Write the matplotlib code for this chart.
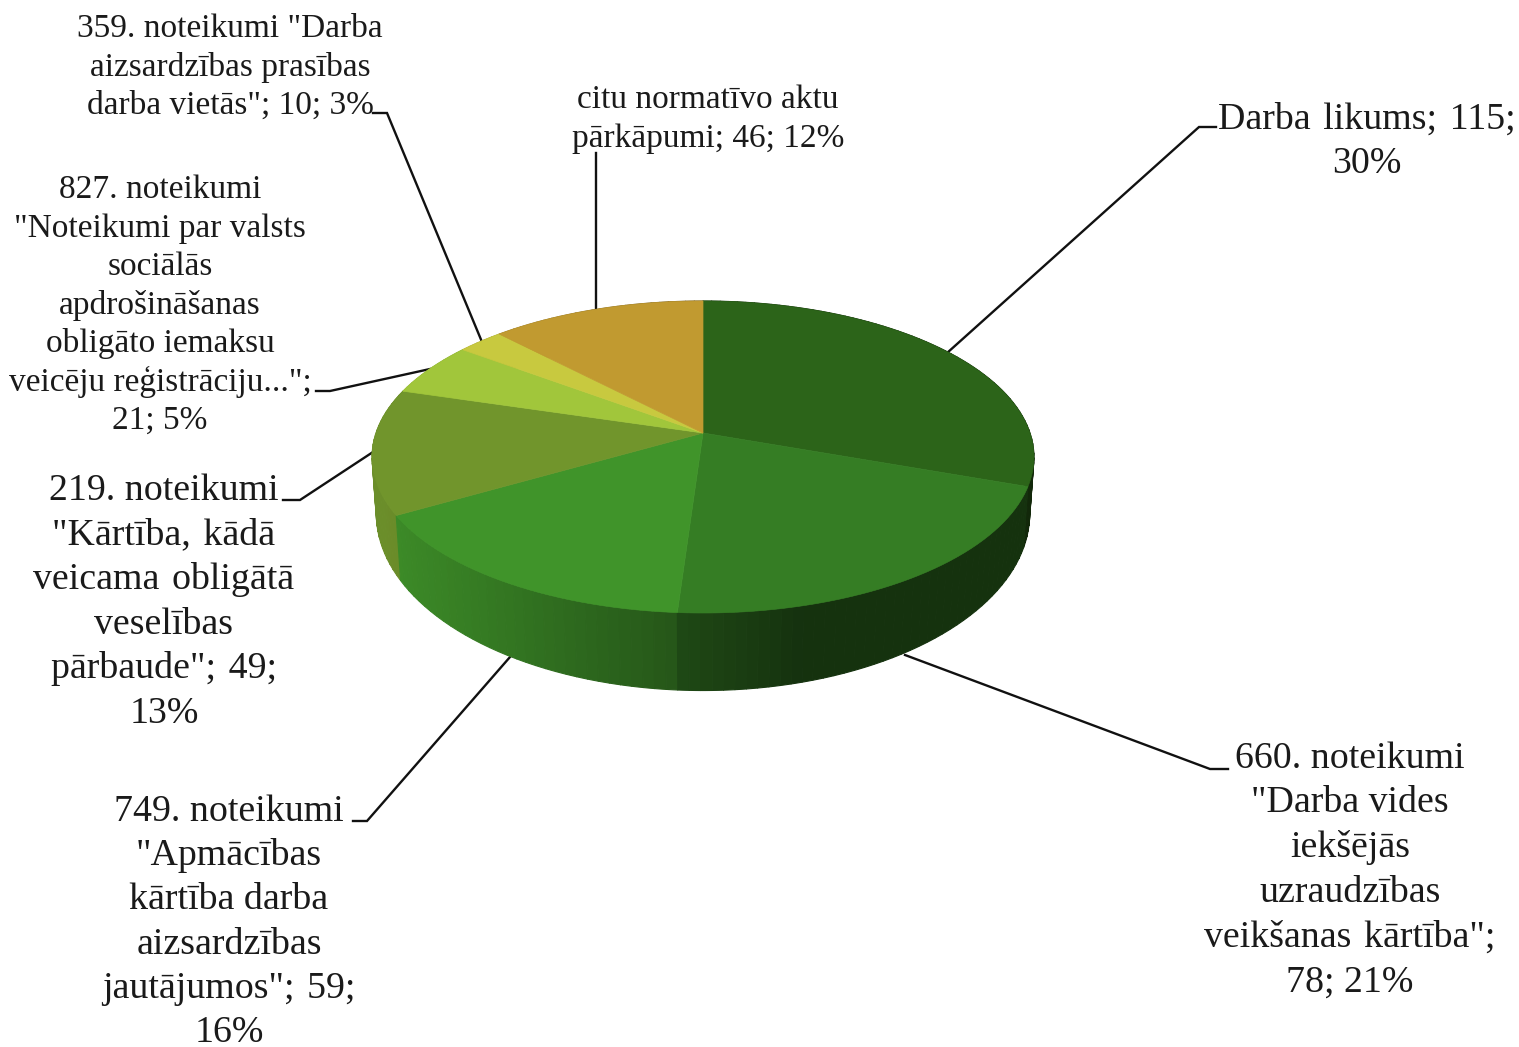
import numpy as np
import matplotlib
matplotlib.use('Agg')
import matplotlib.pyplot as plt
from matplotlib.collections import PolyCollection
from matplotlib.colors import to_rgb

# slices, clockwise from 12 o'clock
values = [115, 78, 59, 49, 21, 10, 46]
colors = ['#2c6419', '#357d24', '#40942a', '#71952c', '#a1c63b', '#c8c93f', '#c19a30']

small_font = 24.0
big_font = 27.3

# wider word gap used in the justified looking lines
gap = ' \u200a'

label_lines = [
    ['359. noteikumi "Darba', 'aizsardzības prasības', 'darba vietās"; 10; 3%'],
    ['citu normatīvo aktu', 'pārkāpumi; 46; 12%'],
    [f'Darba{gap}likums;{gap}115;', '30%'],
    ['827. noteikumi', '"Noteikumi par valsts', 'sociālās', 'apdrošināšanas',
     'obligāto iemaksu', 'veicēju reģistrāciju...";', '21; 5%'],
    ['219. noteikumi', f'"Kārtība,{gap}kādā', f'veicama{gap}obligātā', 'veselības',
     f'pārbaude";{gap}49;', '13%'],
    ['749. noteikumi', '"Apmācības', 'kārtība darba', 'aizsardzības',
     f'jautājumos";{gap}59;', '16%'],
    ['660. noteikumi', '"Darba vides', 'iekšējās', 'uzraudzības',
     f'veikšanas{gap}kārtība";', '78; 21%'],
]
# centre x, first line y, line step, font size
label_pos = [
    (230, 25.5, 38.5, small_font),
    (708, 96.5, 38.5, small_font),
    (1367, 115, 44.5, big_font),
    (160, 186.5, 38.4, small_font),
    (164, 486.5, 44.6, big_font),
    (229, 807.5, 44.3, big_font),
    (1350, 754.5, 44.7, big_font),
]
leaders = [
    [(373, 113), (387, 113), (482, 342)],
    [(596, 153), (596, 310)],
    [(1216, 127), (1199, 127), (947, 353)],
    [(316, 391), (330, 391), (430, 369)],
    [(283, 500), (300, 500), (373, 452)],
    [(353, 821), (367, 821), (510, 657)],
    [(1228, 769), (1210, 769), (905, 655)],
]


def top_rim(t):
    # perspective projection of the pie's top circle
    u, v = np.sin(t), np.cos(t)
    d = 1 + 0.1538 * v
    return 703 + 327 * u / d, 433 - 152.3 * v / d


def low_rim(t):
    u, v = np.sin(t), np.cos(t)
    d = 1 + 0.15 * v
    return 703 + 323 * u / d, 487 - 173 * v / d


def side_shade(x):
    # side gets darker going right, flat after about x=800
    return np.interp(x, [385, 679, 800, 1040], [0.95, 0.58, 0.40, 0.40])


fig = plt.figure(figsize=(15.19, 10.47), dpi=100)
ax = fig.add_axes([0, 0, 1, 1])
ax.set_xlim(0, 1519)
ax.set_ylim(1047, 0)
ax.axis('off')

for pts in leaders:
    xs, ys = zip(*pts)
    ax.plot(xs, ys, color='#111111', lw=1.7, zorder=1, solid_joinstyle='miter')

edges = np.cumsum([0] + values) / sum(values) * 2 * np.pi

# side wall, thin overlapping quads, back to front
quads, quad_cols, depth = [], [], []
for i, col in enumerate(colors):
    n = max(int((edges[i + 1] - edges[i]) / 0.03), 2)
    ts = np.linspace(edges[i], edges[i + 1], n + 1)
    base = np.array(to_rgb(col))
    for a, b in zip(ts[:-1], ts[1:]):
        # arc per quad so the outer edge stays round
        arc = np.linspace(a, b, 6)
        xt, yt = top_rim(arc)
        xl, yl = low_rim(arc)
        quads.append(np.r_[np.c_[xt, yt], np.c_[xl, yl][::-1]])
        quad_cols.append(base * side_shade(xt.mean()))
        depth.append(yt.mean())
order = np.argsort(depth)
ax.add_collection(PolyCollection([quads[i] for i in order],
                                 facecolors=[quad_cols[i] for i in order],
                                 edgecolors=[quad_cols[i] for i in order],
                                 linewidths=0.8, zorder=2))

# top face
for i, col in enumerate(colors):
    ts = np.linspace(edges[i], edges[i + 1], 120)
    x, y = top_rim(ts)
    ax.fill(np.r_[703, x], np.r_[433, y], color=col, lw=0.5, zorder=3)

for lines, (cx, y0, step, size) in zip(label_lines, label_pos):
    for j, line in enumerate(lines):
        ax.text(cx, y0 + j * step, line, ha='center', va='center_baseline',
                family='Liberation Serif', fontsize=size, color='#1a1a1a', zorder=4)

fig.savefig('out.png', dpi=100)
